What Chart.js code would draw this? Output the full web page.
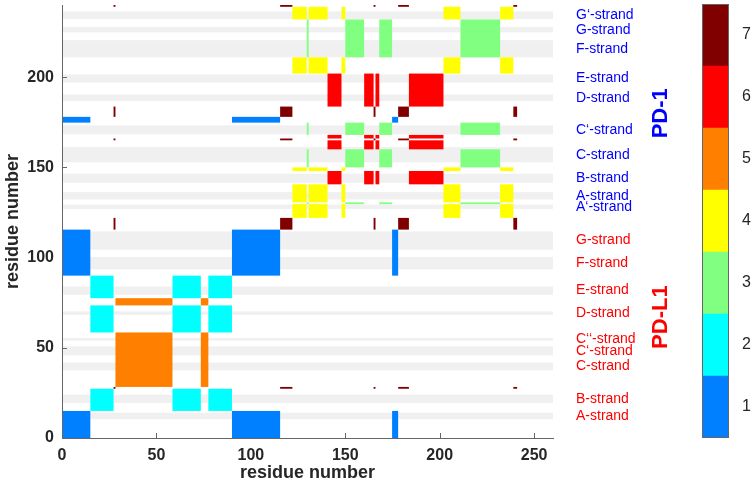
<!DOCTYPE html>
<html>
<head>
<meta charset="utf-8">
<script src="https://cdn.jsdelivr.net/npm/chart.js@4.4.1/dist/chart.umd.min.js"></script>
<style>
  body { margin: 0; background: #fff; }
  #wrap { position: relative; width: 754px; height: 486px; }
  #main { position: absolute; left: 0; top: 0; }
  #cbar { position: absolute; left: 690px; top: 0; }
</style>
</head>
<body>
<div id="wrap">
  <canvas id="main" width="754" height="486"></canvas>
  <canvas id="cbar" width="64" height="486"></canvas>
</div>
<script>
const FONT = "'Liberation Sans', Arial, Helvetica, sans-serif";

// colour levels (colorbar 1..7)
const classLevels = [1, 2, 3, 4, 5, 6, 7];
const classColors = ['#0080ff', '#00ffff', '#80ff80', '#ffff00', '#ff8000', '#ff0000', '#800000'];

// residue segments and their class; a cell is drawn where both segments share a class
const segLo = [0, 15, 27.3, 28.3, 58.5, 73.5, 77.5, 90, 115.5, 122, 129.6, 130.6, 140.6, 148, 150, 160, 165, 166, 168, 174.8, 178, 183.7, 202, 211, 232, 239];
const segHi = [15, 27.3, 28.3, 58.5, 73.5, 77.5, 90, 115.5, 122, 129.6, 130.6, 140.6, 148, 150, 160, 165, 166, 168, 174.8, 178, 183.7, 202, 211, 232, 239, 241];
const segClass = [1, 2, 7, 5, 2, 5, 2, 1, 7, 4, 3, 4, 6, 4, 3, 6, 7, 6, 3, 1, 7, 6, 4, 3, 4, 7];

// beta strands (grey bands), chain 0 = PD-L1, 1 = PD-1
const strandNames = ['A-strand', 'B-strand', 'C-strand', 'C‘-strand', 'C‘‘-strand', 'D-strand', 'E-strand', 'F-strand', 'G-strand',
                     'A‘-strand', 'A-strand', 'B-strand', 'C-strand', 'C‘-strand', 'D-strand', 'E-strand', 'F-strand', 'G-strand', 'G‘-strand'];
const strandLo = [10.4, 19.4, 37.5, 45.8, 54, 68.3, 79.4, 93.5, 104.4, 127, 132.2, 141.5, 152.8, 168.3, 186.8, 197, 211, 224.8, 232.2];
const strandHi = [14, 24, 41.8, 50.8, 55.4, 70.2, 84, 100.4, 114.5, 129.4, 136.3, 146.5, 161.2, 173.3, 190.4, 201.5, 220.5, 227.8, 236.5];
const strandChain = [0, 0, 0, 0, 0, 0, 0, 0, 0, 1, 1, 1, 1, 1, 1, 1, 1, 1, 1];

const chainNames = ['PD-L1', 'PD-1'];
const chainColors = ['#ff0000', '#0000ff'];
const chainLabelY = [67, 180];

const xTicks = [0, 50, 100, 150, 200, 250];
const yTicks = [0, 50, 100, 150, 200];
const xMax = 260, yMax = 240;

const contactPlugin = {
  id: 'contacts',
  beforeDatasetsDraw(chart) {
    const { ctx, chartArea, scales: { x, y } } = chart;
    ctx.save();
    ctx.beginPath();
    ctx.rect(chartArea.left, chartArea.top, chartArea.width, chartArea.height);
    ctx.clip();

    // strand bands
    ctx.fillStyle = '#f0f0f0';
    const xa = x.getPixelForValue(0), xb = x.getPixelForValue(xMax);
    strandLo.forEach((lo, i) => {
      const y0 = y.getPixelForValue(strandHi[i]);
      ctx.fillRect(xa, y0, xb - xa, y.getPixelForValue(lo) - y0);
    });

    // inward tick marks
    ctx.strokeStyle = '#666';
    ctx.lineWidth = 1;
    ctx.beginPath();
    xTicks.forEach(v => {
      const px = Math.round(x.getPixelForValue(v)) + 0.5;
      ctx.moveTo(px, chartArea.bottom);
      ctx.lineTo(px, chartArea.bottom - 5);
    });
    yTicks.forEach(v => {
      const py = Math.round(y.getPixelForValue(v)) + 0.5;
      ctx.moveTo(chartArea.left, py);
      ctx.lineTo(chartArea.left + 5, py);
    });
    ctx.stroke();

    // contact cells
    for (let i = 0; i < segClass.length; i++) {
      for (let j = 0; j < segClass.length; j++) {
        if (segClass[i] !== segClass[j]) continue;
        const x0 = x.getPixelForValue(segLo[i]);
        const y0 = y.getPixelForValue(segHi[j]);
        ctx.fillStyle = classColors[segClass[i] - 1];
        ctx.fillRect(x0, y0, x.getPixelForValue(segHi[i]) - x0, y.getPixelForValue(segLo[j]) - y0);
      }
    }
    ctx.restore();
  },
  afterDraw(chart) {
    const { ctx, chartArea, scales: { y } } = chart;
    ctx.save();
    ctx.textBaseline = 'middle';
    ctx.textAlign = 'left';
    ctx.font = '14px ' + FONT;
    strandNames.forEach((name, i) => {
      ctx.fillStyle = chainColors[strandChain[i]];
      ctx.fillText(name, chartArea.right + 23, y.getPixelForValue((strandLo[i] + strandHi[i]) / 2));
    });
    ctx.font = 'bold 22px ' + FONT;
    ctx.textAlign = 'center';
    chainNames.forEach((name, i) => {
      ctx.save();
      ctx.translate(chartArea.right + 108, y.getPixelForValue(chainLabelY[i]));
      ctx.rotate(-Math.PI / 2);
      ctx.fillStyle = chainColors[i];
      ctx.fillText(name, 0, 0);
      ctx.restore();
    });
    ctx.restore();
  }
};

new Chart(document.getElementById('main'), {
  type: 'scatter',
  data: { datasets: [] },
  options: {
    animation: false,
    responsive: false,
    layout: { padding: { left: 0, right: 201, top: 5, bottom: 0 } },
    plugins: { legend: { display: false }, tooltip: { enabled: false } },
    scales: {
      x: {
        type: 'linear', min: 0, max: xMax,
        afterBuildTicks: s => { s.ticks = xTicks.map(v => ({ value: v })); },
        afterFit: s => { s.height = 48; s.paddingLeft = 0; s.paddingRight = 0; },
        grid: { drawOnChartArea: false, drawTicks: false },
        border: { color: '#666', width: 1, z: 1 },
        ticks: { padding: 8, color: '#262626', maxRotation: 0, autoSkip: false, font: { family: FONT, size: 16, weight: 'bold' } },
        title: { display: true, text: 'residue number', color: '#262626', padding: { top: 0, bottom: 2 }, font: { family: FONT, size: 18, weight: 'bold' } }
      },
      y: {
        type: 'linear', min: 0, max: yMax,
        afterBuildTicks: s => { s.ticks = yTicks.map(v => ({ value: v })); },
        afterFit: s => { s.width = 62; s.paddingTop = 0; s.paddingBottom = 0; },
        grid: { drawOnChartArea: false, drawTicks: false },
        border: { color: '#666', width: 1, z: 1 },
        ticks: { padding: 8, color: '#262626', autoSkip: false, font: { family: FONT, size: 16, weight: 'bold' } },
        title: { display: true, text: 'residue number', color: '#262626', padding: { top: 2, bottom: 0 }, font: { family: FONT, size: 18, weight: 'bold' } }
      }
    }
  },
  plugins: [contactPlugin]
});

const outlinePlugin = {
  id: 'outline',
  afterDraw(chart) {
    const { ctx, chartArea: a } = chart;
    ctx.save();
    ctx.strokeStyle = '#666';
    ctx.lineWidth = 1;
    ctx.strokeRect(Math.round(a.left) + 0.5, Math.round(a.top) + 0.5, Math.round(a.width) - 1, Math.round(a.height) - 1);
    ctx.restore();
  }
};

new Chart(document.getElementById('cbar'), {
  type: 'bar',
  data: {
    labels: [''],
    datasets: classLevels.map((lv, i) => ({
      data: [[lv - 0.5, lv + 0.5]],
      backgroundColor: classColors[i],
      borderWidth: 0,
      barPercentage: 1,
      categoryPercentage: 1,
      grouped: false
    }))
  },
  options: {
    animation: false,
    responsive: false,
    layout: { padding: { left: 12, right: 0, top: 4, bottom: 48 } },
    plugins: { legend: { display: false }, tooltip: { enabled: false } },
    scales: {
      x: { display: false, stacked: true },
      y: {
        position: 'right', min: 0.5, max: 7.5,
        afterBuildTicks: s => { s.ticks = classLevels.map(v => ({ value: v })); },
        afterFit: s => { s.width = 25; s.paddingTop = 0; s.paddingBottom = 0; },
        grid: { drawOnChartArea: false, drawTicks: false },
        border: { display: false },
        ticks: { padding: 13, color: '#262626', font: { family: FONT, size: 16 } }
      }
    }
  },
  plugins: [outlinePlugin]
});
</script>
</body>
</html>
